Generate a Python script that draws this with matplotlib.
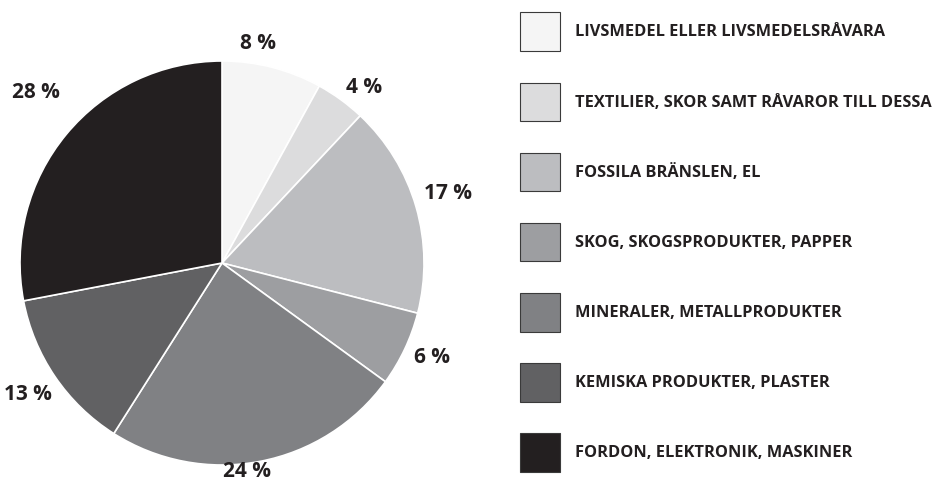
import numpy as np
import matplotlib.pyplot as plt
from matplotlib.patches import Patch

categories = [
    'Livsmedel eller livsmedelsråvara',
    'Textilier, skor samt råvaror till dessa',
    'Fossila bränslen, el',
    'Skog, skogsprodukter, papper',
    'Mineraler, metallprodukter',
    'Kemiska produkter, plaster',
    'Fordon, elektronik, maskiner',
]
shares = [8, 4, 17, 6, 24, 13, 28]

colors = ['#f5f5f5', '#dcdcdd', '#bcbdc0', '#9d9ea1', '#808184', '#616163', '#231f20']
label_r = [1.10, 1.12, 1.17, 1.14, 1.04, 1.16, 1.25]
label_shift = [5, -3, 1, 1, -4, 0, -3]  # degrees
text_color = '#231f20'

plt.rcParams['font.family'] = ['Open Sans', 'DejaVu Sans']

fig = plt.figure(figsize=(9.33, 4.94), dpi=100)
W, H = 933, 494
ax = fig.add_axes([20 / W, 29 / H, 404 / W, 404 / H])

wedges, _ = ax.pie(shares, colors=colors, startangle=90, counterclock=False,
                   radius=1, wedgeprops=dict(edgecolor='white', linewidth=1.2))

for w, v, r, s in zip(wedges, shares, label_r, label_shift):
    mid = np.deg2rad((w.theta1 + w.theta2) / 2 + s)
    ax.text(r * np.cos(mid), r * np.sin(mid), f'{v} %', ha='center', va='center',
            fontsize=15, fontweight='bold', color=text_color)

ax.set_xlim(-1, 1)
ax.set_ylim(-1, 1)
ax.set_aspect('equal')
ax.axis('off')

handles = [Patch(facecolor=c, edgecolor='#3a3a3a', linewidth=0.8) for c in colors]
fs = 11.8
fs_px = fs * 100 / 72
fig.legend(handles, [c.upper() for c in categories], loc='upper left',
           bbox_to_anchor=(520 / W, 1 - 12.5 / H), bbox_transform=fig.transFigure,
           frameon=False, borderpad=0, borderaxespad=0,
           handlelength=40 / fs_px, handleheight=53 / fs_px,
           labelspacing=31.7 / fs_px, handletextpad=15 / fs_px,
           prop=dict(family='Open Sans', weight='bold', size=fs),
           labelcolor=text_color)

fig.savefig('out.png', dpi=100)
